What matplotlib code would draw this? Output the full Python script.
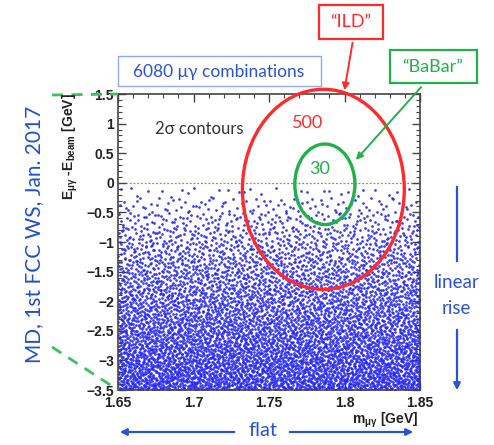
import numpy as np
import matplotlib
matplotlib.use("Agg")
import matplotlib.pyplot as plt
from matplotlib.patches import Ellipse, Rectangle, FancyArrowPatch
from matplotlib.lines import Line2D

# ---------------- data ----------------
x_range = [1.65, 1.85]
y_range = [-3.5, 1.5]
x_ticks = [1.65, 1.70, 1.75, 1.80, 1.85]
x_ticklabels = ["1.65", "1.7", "1.75", "1.8", "1.85"]
y_ticks = [1.5, 1, 0.5, 0, -0.5, -1, -1.5, -2, -2.5, -3, -3.5]
y_ticklabels = ["1.5", "1", "0.5", "0", "\u22120.5", "\u22121", "\u22121.5", "\u22122",
                "\u22122.5", "\u22123", "\u22123.5"]

# counts of the 6080 mu-gamma combinations in 0.25 GeV bands (top band first)
band_top = [0.0, -0.25, -0.5, -0.75, -1.0, -1.25, -1.5, -1.75, -2.0, -2.25, -2.5, -2.75, -3.0, -3.25]
band_counts = [31, 93, 155, 217, 279, 341, 403, 465, 527, 589, 651, 714, 776, 839]

# 2 sigma contours: (m centre, E centre, m half-width, E half-height)
ild_contour = [1.786, -0.11, 0.0536, 1.69]
babar_contour = [1.787, -0.025, 0.0199, 0.68]

# ---------------- figure ----------------
W, H = 494, 445
fig = plt.figure(figsize=(W / 100, H / 100), dpi=100)


def fx(px):
    return px / W


def fy(py):
    return 1 - py / H


ax_l, ax_r, ax_t, ax_b = 118, 420, 94, 390
ax = fig.add_axes([fx(ax_l), fy(ax_b), (ax_r - ax_l) / W, (ax_b - ax_t) / H])
ax.set_xlim(*x_range)
ax.set_ylim(*y_range)


def halton(idx, base):
    out = np.empty(len(idx))
    for n, i in enumerate(idx):
        f, r, k = 1.0, 0.0, int(i)
        while k > 0:
            f /= base
            r += f * (k % base)
            k //= base
        out[n] = r
    return out


ntot = sum(band_counts)
idx = np.arange(1, ntot + 1) * 409 + 17
hx = halton(idx, 2)
hy = halton(idx, 3)
xs, ys = [], []
k = 0
for top, n in zip(band_top, band_counts):
    for j in range(n):
        xs.append(x_range[0] + hx[k] * (x_range[1] - x_range[0]))
        ys.append(top - 0.25 * hy[k])
        k += 1
xs = np.array(xs)
ys = np.array(ys)
# keep the very top of the cloud slightly below zero
ys = np.where(ys > -0.08, ys - 0.08, ys)
ax.scatter(xs, ys, s=3.8, marker="o", color="#2424f5", linewidths=0, alpha=0.9, zorder=2)

ax.axhline(0, color="#888888", lw=0.9, ls=(0, (1.5, 1.5)), zorder=1)

red = "#ff2a2a"
green = "#22b04a"
for (cx, cy, hw, hh), col in [(ild_contour, red), (babar_contour, green)]:
    ax.add_patch(Ellipse((cx, cy), 2 * hw, 2 * hh, fill=False, edgecolor=col, lw=2.4,
                         clip_on=False, zorder=4))

ax.set_xticks(x_ticks)
ax.set_xticklabels(x_ticklabels)
ax.set_yticks(y_ticks)
ax.set_yticklabels(y_ticklabels)
ax.xaxis.set_minor_locator(matplotlib.ticker.MultipleLocator(0.01))
ax.yaxis.set_minor_locator(matplotlib.ticker.MultipleLocator(0.1))
ax.tick_params(which="both", direction="in", top=True, right=True, color="#444444")
ax.tick_params(which="major", length=6, width=1.0)
ax.tick_params(which="minor", length=3, width=0.8)
ax.tick_params(axis="x", pad=4)
ax.tick_params(axis="y", pad=3)
for lab in ax.get_xticklabels() + ax.get_yticklabels():
    lab.set_fontfamily("Liberation Sans")
    lab.set_fontweight("bold")
    lab.set_fontsize(10)
    lab.set_color("#222222")
for sp in ax.spines.values():
    sp.set_color("#444444")
    sp.set_linewidth(1.2)

plt.rcParams["mathtext.fontset"] = "custom"
plt.rcParams["mathtext.rm"] = "Liberation Sans:bold"
plt.rcParams["mathtext.it"] = "Liberation Sans:bold"
plt.rcParams["mathtext.bf"] = "Liberation Sans:bold"

fig.text(fx(70), fy(93), r"E$_{\mu\gamma}$ -E$_{\rm beam}$ [GeV]", rotation=90,
         ha="center", va="top", fontsize=10, fontweight="bold",
         family="Liberation Sans", color="#222222")
fig.text(fx(418), fy(420), r"m$_{\mu\gamma}$ [GeV]", ha="right", va="center",
         fontsize=10, fontweight="bold", family="Liberation Sans", color="#222222")

# ---------------- annotations ----------------
blue = "#2a52d6"
font = "Lato"

# combinations box
fig.patches.append(Rectangle((fx(118), fy(86)), (321 - 118) / W, (86 - 56) / H,
                             transform=fig.transFigure, fill=False, edgecolor="#94a8f0", lw=1.0))
fig.text(fx(219), fy(72), "6080 \u03bc\u03b3 combinations", ha="center", va="center",
         fontsize=12.5, family=font, color=blue)

fig.text(fx(199), fy(129), "2\u03c3 contours", ha="center", va="center",
         fontsize=12, family=font, color="#333333")
fig.text(fx(308), fy(123), "500", ha="center", va="center", fontsize=13,
         family=font, color=red)
fig.text(fx(320), fy(169), "30", ha="center", va="center", fontsize=13,
         family=font, color=green)

# ILD box
fig.patches.append(Rectangle((fx(319), fy(39)), (383 - 319) / W, (39 - 5) / H,
                             transform=fig.transFigure, fill=False, edgecolor=red, lw=1.6))
fig.text(fx(351), fy(22), "\u201cILD\u201d", ha="center", va="center", fontsize=13,
         family=font, color=red)
fig.add_artist(FancyArrowPatch(
    (fx(353), fy(40)), (fx(344), fy(93)), transform=fig.transFigure,
    arrowstyle="-|>,head_length=4,head_width=2", color=red, lw=1.4))

# BaBar box
fig.patches.append(Rectangle((fx(390), fy(83)), (477 - 390) / W, (83 - 50) / H,
                             transform=fig.transFigure, fill=False, edgecolor=green, lw=1.6))
fig.text(fx(433), fy(67), "\u201cBaBar\u201d", ha="center", va="center", fontsize=13,
         family=font, color=green)
fig.add_artist(FancyArrowPatch(
    (fx(423), fy(85)), (fx(354), fy(162)), transform=fig.transFigure,
    arrowstyle="-|>,head_length=4,head_width=2", color=green, lw=1.4))

# green dashed guide lines
fig.add_artist(Line2D([fx(52), fx(118)], [fy(95), fy(94)], transform=fig.transFigure,
                      color="#3cc060", lw=2, ls=(0, (4, 3))))
fig.add_artist(Line2D([fx(52), fx(118)], [fy(347), fy(390)], transform=fig.transFigure,
                      color="#3cc060", lw=2, ls=(0, (4, 3))))

# side label
fig.text(fx(34), fy(234), "MD, 1st FCC WS, Jan. 2017", rotation=90, ha="center",
         va="center", fontsize=15, family=font, color="#1f4fcf")

# linear rise
fig.add_artist(Line2D([fx(457), fx(457)], [fy(187), fy(261)], transform=fig.transFigure,
                      color=blue, lw=1.6))
fig.add_artist(FancyArrowPatch(
    (fx(457), fy(327)), (fx(457), fy(393)), transform=fig.transFigure,
    arrowstyle="-|>,head_length=4,head_width=2", color=blue, lw=1.6))
fig.text(fx(456), fy(283), "linear", ha="center", va="center", fontsize=13.5,
         family=font, color=blue)
fig.text(fx(456), fy(308), "rise", ha="center", va="center", fontsize=13.5,
         family=font, color=blue)

# flat
fig.add_artist(FancyArrowPatch(
    (fx(237), fy(432)), (fx(117), fy(432)), transform=fig.transFigure,
    arrowstyle="-|>,head_length=4,head_width=2", color=blue, lw=1.6))
fig.add_artist(FancyArrowPatch(
    (fx(287), fy(432)), (fx(416), fy(432)), transform=fig.transFigure,
    arrowstyle="-|>,head_length=4,head_width=2", color=blue, lw=1.6))
fig.text(fx(263), fy(431), "flat", ha="center", va="center", fontsize=14.5,
         family=font, color=blue)

fig.savefig("out.png", dpi=100)
